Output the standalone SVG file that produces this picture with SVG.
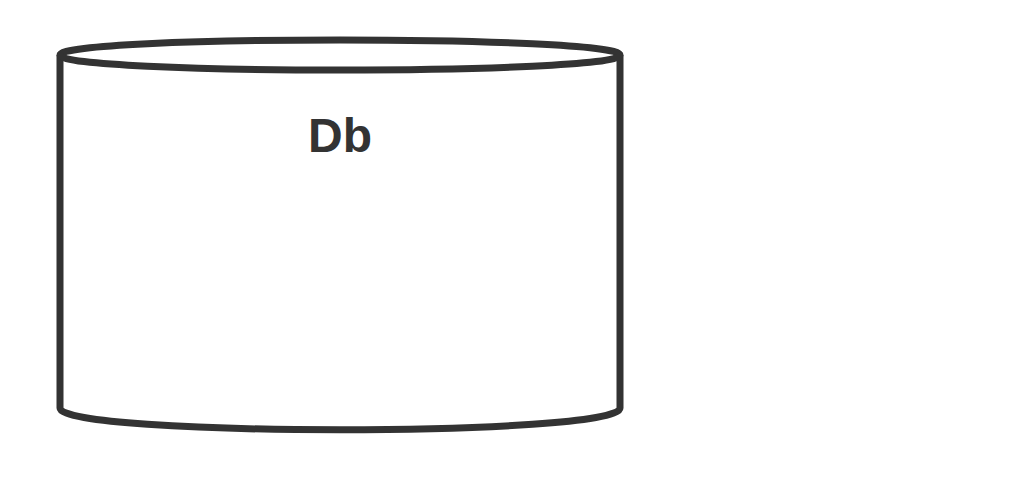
<svg xmlns="http://www.w3.org/2000/svg" width="1024" height="484" viewBox="0 0 1024 484">
  <style>
    .shape { fill: #ffffff; stroke: #333333; stroke-width: 7; stroke-linejoin: round; }
    .edge { fill: none; stroke: #333333; stroke-width: 7; }
    .label { font-family: "Liberation Sans", Arial, Helvetica, sans-serif; font-weight: bold; font-size: 48px; fill: #333333; text-anchor: middle; }
  </style>
  <rect width="1024" height="484" fill="#ffffff"/>
  <g id="node-db">
    <path class="shape" d="M60,55 C60,35 620,35 620,55 L620,408 C620,437 60,437 60,408 Z"/>
    <path class="edge" d="M60,55 C60,75 620,75 620,55"/>
    <text class="label" x="340" y="152">Db</text>
  </g>
  <g id="connectors"></g>
</svg>
